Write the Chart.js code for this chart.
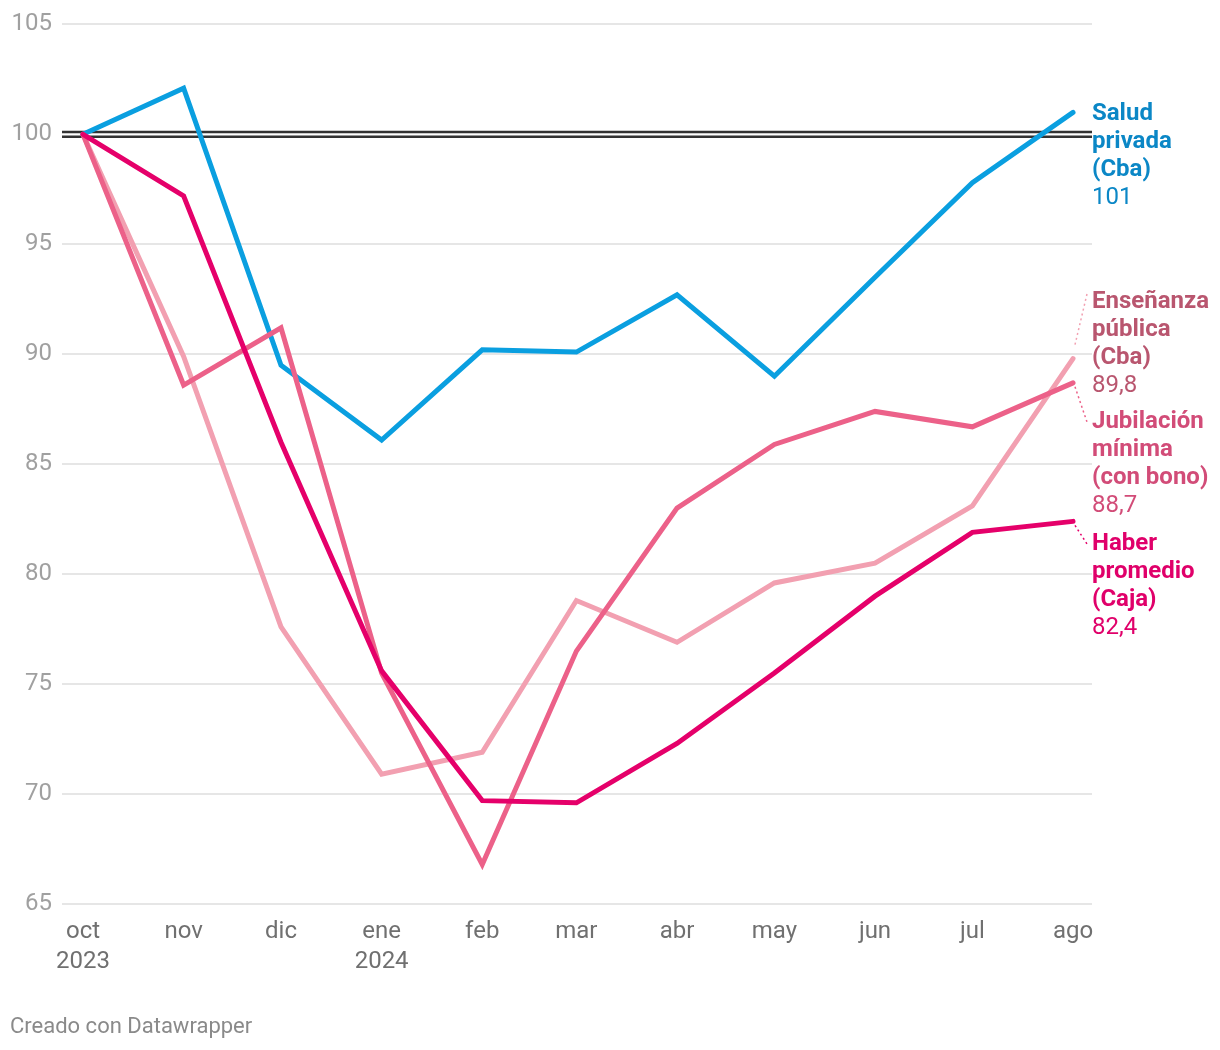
<!DOCTYPE html>
<html>
<head>
<meta charset="utf-8">
<script src="https://cdn.jsdelivr.net/npm/chart.js@4/dist/chart.umd.min.js"></script>
<style>
  html, body { margin: 0; padding: 0; background: #fff; }
  #wrap { width: 1220px; height: 1050px; position: relative; }
</style>
</head>
<body>
<div id="wrap"><canvas id="chart" width="1220" height="1050"></canvas></div>
<script>
// months from oct 2023 to ago 2024, placed by day since 1 oct
const months = ['oct', 'nov', 'dic', 'ene', 'feb', 'mar', 'abr', 'may', 'jun', 'jul', 'ago'];
const monthDays = [0, 31, 61, 92, 123, 152, 183, 213, 244, 274, 305];
const yearLabels = { oct: '2023', ene: '2024' };

const saludPrivada = [100, 102.1, 89.5, 86.1, 90.2, 90.1, 92.7, 89.0, 93.5, 97.8, 101.0];
const ensenanzaPublica = [100, 89.9, 77.6, 70.9, 71.9, 78.8, 76.9, 79.6, 80.5, 83.1, 89.8];
const jubilacionMinima = [100, 88.6, 91.2, 75.5, 66.8, 76.5, 83.0, 85.9, 87.4, 86.7, 88.7];
const haberPromedio = [100, 97.2, 86.0, 75.6, 69.7, 69.6, 72.3, 75.5, 79.0, 81.9, 82.4];

const yTicks = [65, 70, 75, 80, 85, 90, 95, 100, 105];

const FONT = 'Roboto, "Noto Sans", sans-serif';

function pts(arr) {
  return arr.map((v, i) => ({ x: monthDays[i], y: v }));
}

function fmt(v) {
  return Number.isInteger(v) ? String(v) : v.toFixed(1).replace('.', ',');
}

const series = [
  { name: ['Salud', 'privada', '(Cba)'], data: saludPrivada, line: '#0a9fe0', text: '#0b87c6', top: 114, order: 2 },
  { name: ['Enseñanza', 'pública', '(Cba)'], data: ensenanzaPublica, line: '#f2a0b1', text: '#b9566f', top: 302, order: 3 },
  { name: ['Jubilación', 'mínima', '(con bono)'], data: jubilacionMinima, line: '#ec6189', text: '#d24c78', top: 422, order: 1 },
  { name: ['Haber', 'promedio', '(Caja)'], data: haberPromedio, line: '#e5006a', text: '#e0006a', top: 544, order: 0 }
];

// double line at 100
const baseLine = {
  id: 'baseLine',
  beforeDatasetsDraw(chart) {
    const { ctx, chartArea, scales } = chart;
    const y = scales.y.getPixelForValue(100);
    ctx.save();
    ctx.fillStyle = '#fff';
    ctx.fillRect(chartArea.left, y - 3.5, chartArea.right - chartArea.left, 7);
    ctx.strokeStyle = '#333';
    ctx.lineWidth = 2.4;
    ctx.beginPath();
    ctx.moveTo(chartArea.left, y - 2.4);
    ctx.lineTo(chartArea.right, y - 2.4);
    ctx.moveTo(chartArea.left, y + 2.4);
    ctx.lineTo(chartArea.right, y + 2.4);
    ctx.stroke();
    ctx.restore();
  }
};

// end labels at the right, with dotted leaders
const endLabels = {
  id: 'endLabels',
  afterDatasetsDraw(chart) {
    const { ctx, scales } = chart;
    const xEnd = scales.x.getPixelForValue(monthDays[monthDays.length - 1]);
    const tx = 1092;
    const lh = 28;
    ctx.save();
    series.forEach(s => {
      const last = s.data[s.data.length - 1];
      const yEnd = scales.y.getPixelForValue(last);
      const top = s.top;
      // leader if label moved away from the line end
      if (Math.abs(top - yEnd) > 12) {
        ctx.strokeStyle = s.line;
        ctx.lineWidth = 1.5;
        ctx.setLineDash([2, 3]);
        ctx.beginPath();
        const up = top < yEnd;
        ctx.moveTo(xEnd + 2, yEnd + (up ? -14 : 4));
        ctx.lineTo(tx - 5, up ? top - 8 : top);
        ctx.stroke();
        ctx.setLineDash([]);
      }
      ctx.fillStyle = s.text;
      ctx.textAlign = 'left';
      ctx.textBaseline = 'middle';
      ctx.font = 'bold 24px ' + FONT;
      s.name.forEach((t, i) => ctx.fillText(t, tx, top + i * lh));
      ctx.font = '24px ' + FONT;
      ctx.fillText(fmt(last), tx, top + s.name.length * lh);
    });
    ctx.restore();
  },
  afterDraw(chart) {
    const { ctx } = chart;
    ctx.save();
    ctx.fillStyle = '#8a8a8a';
    ctx.font = '22px ' + FONT;
    ctx.textAlign = 'left';
    ctx.textBaseline = 'middle';
    ctx.fillText('Creado con Datawrapper', 10, 1027);
    ctx.restore();
  }
};

const ctx = document.getElementById('chart').getContext('2d');
new Chart(ctx, {
  type: 'line',
  data: {
    datasets: series.map(s => ({
      label: s.name.join(' '),
      data: pts(s.data),
      borderColor: s.line,
      backgroundColor: s.line,
      borderWidth: 5,
      borderCapStyle: 'round',
      borderJoinStyle: 'miter',
      pointRadius: 0,
      tension: 0,
      order: s.order
    }))
  },
  options: {
    responsive: false,
    animation: false,
    layout: { padding: { top: 23, right: 128, left: 0, bottom: 0 } },
    plugins: { legend: { display: false }, tooltip: { enabled: false } },
    scales: {
      x: {
        type: 'linear',
        min: -6.47,
        max: 310.85,
        afterBuildTicks: scale => { scale.ticks = monthDays.map(v => ({ value: v })); },
        afterFit: scale => { scale.height = 146; },
        grid: { display: false, drawTicks: false },
        border: { display: false },
        ticks: {
          autoSkip: false,
          maxRotation: 0,
          padding: 13,
          color: '#707070',
          font: { family: FONT, size: 24, lineHeight: 1.25 },
          callback: v => {
            const m = months[monthDays.indexOf(v)];
            return yearLabels[m] ? [m, yearLabels[m]] : m;
          }
        }
      },
      y: {
        min: 65,
        max: 105,
        afterBuildTicks: scale => { scale.ticks = yTicks.map(v => ({ value: v })); },
        afterFit: scale => { scale.width = 62; },
        grid: { color: '#e6e6e6', lineWidth: 2, drawTicks: false },
        border: { display: false },
        ticks: {
          padding: 10,
          color: '#a0a0a0',
          font: { family: FONT, size: 24 }
        }
      }
    }
  },
  plugins: [baseLine, endLabels]
});
</script>
</body>
</html>
